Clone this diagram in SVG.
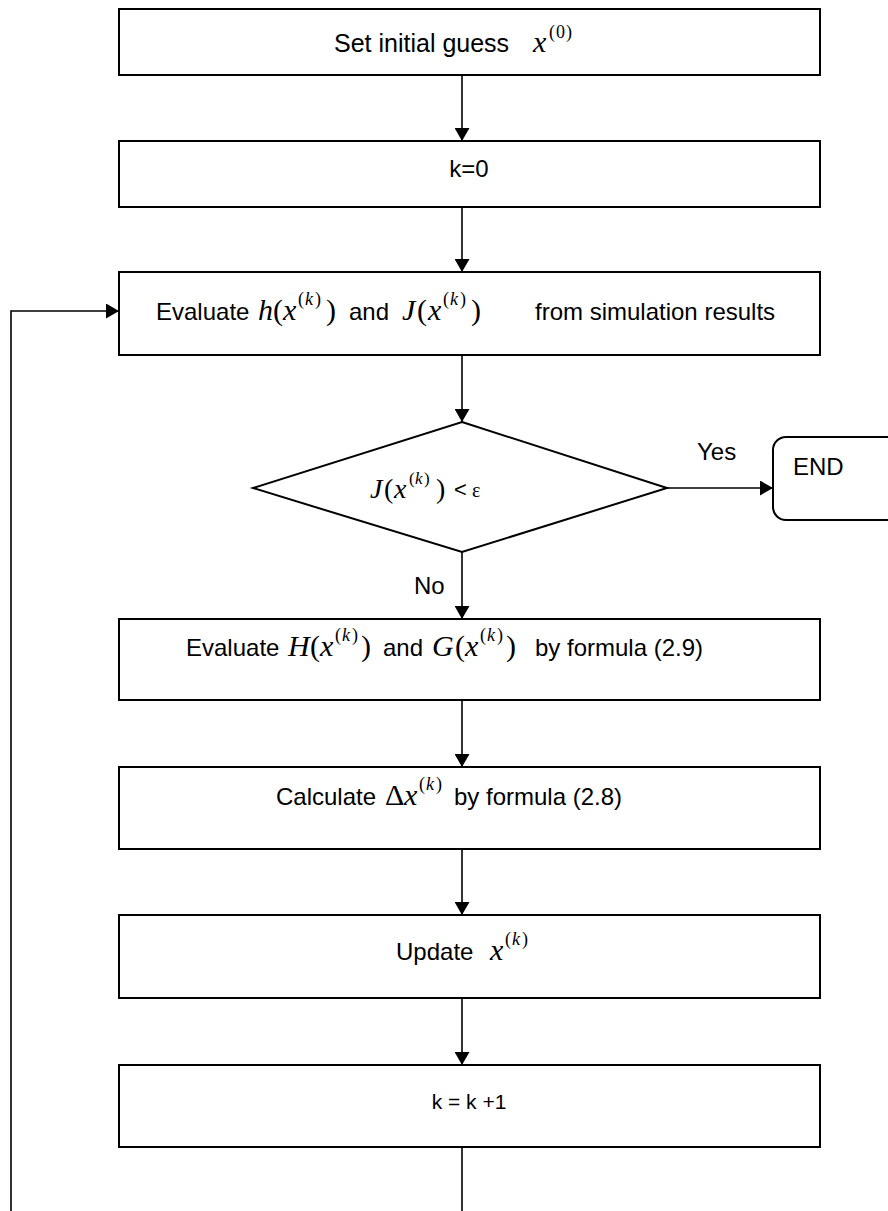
<svg xmlns="http://www.w3.org/2000/svg" width="888" height="1211" viewBox="0 0 888 1211">
  <style>
    .box { fill: #ffffff; stroke: #000000; stroke-width: 2; }
    .wire { fill: none; stroke: #000000; stroke-width: 1.6; }
    .t { font-family: "Liberation Sans", Arial, sans-serif; font-size: 24px; fill: #000000; }
    .mi { font-family: "Liberation Serif", "Times New Roman", serif; font-size: 30px; font-style: italic; fill: #000000; }
    .mu { font-family: "Liberation Serif", "Times New Roman", serif; font-size: 30px; fill: #000000; }
    .si { font-family: "Liberation Serif", "Times New Roman", serif; font-size: 18px; font-style: italic; fill: #000000; }
    .su { font-family: "Liberation Serif", "Times New Roman", serif; font-size: 18px; fill: #000000; }
  </style>
  <defs>
    <marker id="ah" markerUnits="userSpaceOnUse" markerWidth="13" markerHeight="15" refX="13" refY="7.5" orient="auto">
      <path d="M0,0 L13,7.5 L0,15 z" fill="#000000"/>
    </marker>
  </defs>
  <rect width="888" height="1211" fill="#ffffff"/>

  <g id="connectors">
    <line class="wire" x1="462" y1="75" x2="462" y2="141" marker-end="url(#ah)"/>
    <line class="wire" x1="462" y1="207" x2="462" y2="272" marker-end="url(#ah)"/>
    <line class="wire" x1="462" y1="355" x2="462" y2="422" marker-end="url(#ah)"/>
    <line class="wire" x1="667" y1="488" x2="773" y2="488" marker-end="url(#ah)"/>
    <line class="wire" x1="462" y1="552" x2="462" y2="619" marker-end="url(#ah)"/>
    <line class="wire" x1="462" y1="700" x2="462" y2="767" marker-end="url(#ah)"/>
    <line class="wire" x1="462" y1="849" x2="462" y2="915" marker-end="url(#ah)"/>
    <line class="wire" x1="462" y1="998" x2="462" y2="1065" marker-end="url(#ah)"/>
    <!-- loop back from k = k + 1 to the evaluation step -->
    <path class="wire" d="M462,1147 V1240 H11 V311 H119" marker-end="url(#ah)"/>
    <text class="t" x="697" y="460">Yes</text>
    <text class="t" x="414" y="594">No</text>
  </g>

  <g id="init">
    <rect class="box" x="119" y="9" width="701" height="66"/>
    <text class="t" x="334" y="52" style="font-size:25px">Set initial guess</text>
    <text class="mi" x="533" y="52">x</text>
    <text class="su" x="549" y="38" letter-spacing="1">(0)</text>
  </g>

  <g id="k0">
    <rect class="box" x="119" y="141" width="701" height="66"/>
    <text class="t" x="469" y="177" text-anchor="middle">k=0</text>
  </g>

  <g id="evaluate-hj">
    <rect class="box" x="119" y="272" width="701" height="83"/>
    <text class="t" x="156" y="320">Evaluate</text>
    <text class="mi" x="258" y="320">h</text>
    <text class="mu" x="273" y="320">(</text>
    <text class="mi" x="283" y="320">x</text>
    <text class="su" x="298" y="305">(</text>
    <text class="si" x="305" y="305">k</text>
    <text class="su" x="315" y="305">)</text>
    <text class="mu" x="326" y="320">)</text>
    <text class="t" x="349" y="320">and</text>
    <text class="mi" x="402" y="320">J</text>
    <text class="mu" x="417" y="320">(</text>
    <text class="mi" x="428" y="320">x</text>
    <text class="su" x="443" y="305">(</text>
    <text class="si" x="450" y="305">k</text>
    <text class="su" x="460" y="305">)</text>
    <text class="mu" x="471" y="320">)</text>
    <text class="t" x="535" y="320">from simulation results</text>
  </g>

  <g id="converged">
    <polygon class="box" points="462,422 667,488 462,552 253,488"/>
    <text class="mi" x="370" y="498" style="font-size:28px">J</text>
    <text class="mu" x="384" y="498" style="font-size:28px">(</text>
    <text class="mi" x="394" y="498" style="font-size:28px">x</text>
    <text class="su" x="409" y="484" style="font-size:17px">(</text>
    <text class="si" x="415" y="484" style="font-size:17px">k</text>
    <text class="su" x="424" y="484" style="font-size:17px">)</text>
    <text class="mu" x="436" y="498" style="font-size:28px">)</text>
    <text class="t" x="454" y="497" style="font-size:22px">&lt;</text>
    <text class="su" x="472" y="497" style="font-size:20px">ε</text>
  </g>

  <g id="end">
    <rect class="box" x="773" y="437" width="130" height="83" rx="13" ry="13"/>
    <text class="t" x="793" y="475">END</text>
  </g>

  <g id="evaluate-hg">
    <rect class="box" x="119" y="619" width="701" height="81"/>
    <text class="t" x="186" y="656">Evaluate</text>
    <text class="mi" x="288" y="656">H</text>
    <text class="mu" x="310" y="656">(</text>
    <text class="mi" x="320" y="656">x</text>
    <text class="su" x="335" y="641">(</text>
    <text class="si" x="342" y="641">k</text>
    <text class="su" x="352" y="641">)</text>
    <text class="mu" x="361" y="656">)</text>
    <text class="t" x="383" y="656">and</text>
    <text class="mi" x="432" y="656">G</text>
    <text class="mu" x="455" y="656">(</text>
    <text class="mi" x="465" y="656">x</text>
    <text class="su" x="480" y="641">(</text>
    <text class="si" x="487" y="641">k</text>
    <text class="su" x="497" y="641">)</text>
    <text class="mu" x="506" y="656">)</text>
    <text class="t" x="535" y="656">by formula (2.9)</text>
  </g>

  <g id="step">
    <rect class="box" x="119" y="767" width="701" height="82"/>
    <text class="t" x="276" y="805">Calculate</text>
    <text class="mu" x="385" y="805">Δ</text>
    <text class="mi" x="404" y="805">x</text>
    <text class="su" x="419" y="790">(</text>
    <text class="si" x="426" y="790">k</text>
    <text class="su" x="436" y="790">)</text>
    <text class="t" x="454" y="805">by formula (2.8)</text>
  </g>

  <g id="update">
    <rect class="box" x="119" y="915" width="701" height="83"/>
    <text class="t" x="396" y="960">Update</text>
    <text class="mi" x="490" y="960">x</text>
    <text class="su" x="505" y="945">(</text>
    <text class="si" x="512" y="945">k</text>
    <text class="su" x="522" y="945">)</text>
  </g>

  <g id="increment">
    <rect class="box" x="119" y="1065" width="701" height="82"/>
    <text class="t" x="469" y="1109" text-anchor="middle" style="font-size:21px">k = k +1</text>
  </g>
</svg>
